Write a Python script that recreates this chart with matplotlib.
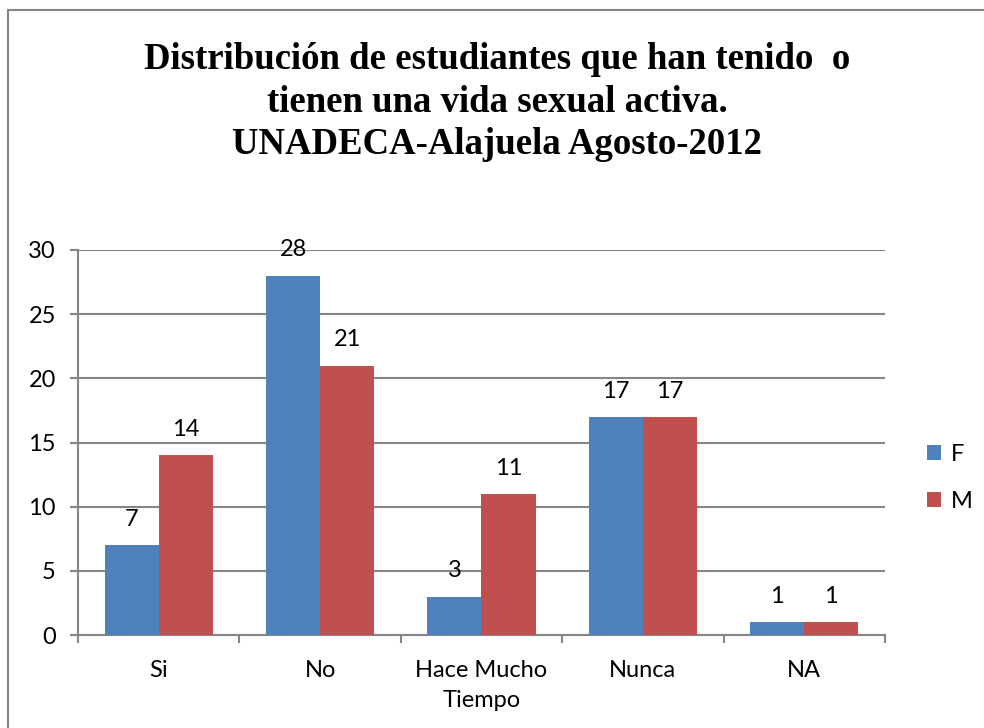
import numpy as np
import matplotlib.pyplot as plt
from matplotlib.patches import Rectangle

categories = ["Si", "No", "Hace Mucho\nTiempo", "Nunca", "NA"]
f_values = [7, 28, 3, 17, 1]
m_values = [14, 21, 11, 17, 1]
series_names = ["F", "M"]

blue = "#4F81BD"
red = "#C0504D"
gray = "#868686"
label_font = "Lato"
fs = 17

fig = plt.figure(figsize=(9.84, 7.28), dpi=100)

# outer chart border
fig.patches.append(Rectangle((8 / 984, -0.05), 1.1, 1 - 10 / 728 + 0.05,
                             transform=fig.transFigure, fill=False,
                             edgecolor=gray, linewidth=1.5))

ax = fig.add_axes([78 / 984, 93 / 728, 807 / 984, 385 / 728])

x = np.arange(len(categories))
w = 0.335
bars_f = ax.bar(x - w / 2, f_values, w, color=blue, label=series_names[0], zorder=3)
bars_m = ax.bar(x + w / 2, m_values, w, color=red, label=series_names[1], zorder=3)

for bars in (bars_f, bars_m):
    for b in bars:
        ax.annotate(str(int(b.get_height())), (b.get_x() + b.get_width() / 2, b.get_height()),
                    xytext=(0, 11), textcoords="offset points", ha="center", va="bottom",
                    fontsize=fs, family=label_font)

ax.set_xlim(-0.5, len(categories) - 0.5)
ax.set_ylim(0, 30)
ax.set_yticks(range(0, 31, 5))
ax.yaxis.grid(True, color=gray, linewidth=1.5, zorder=0)
ax.set_axisbelow(True)

ax.set_xticks(np.arange(-0.5, len(categories), 1))
ax.set_xticklabels([])
ax.set_xticks(x, minor=True)
ax.set_xticklabels(categories, minor=True, fontsize=fs, family=label_font, linespacing=1.55)
ax.tick_params(axis="x", which="minor", length=0, pad=18)
ax.tick_params(axis="x", which="major", length=6, width=1.5, color=gray)
ax.tick_params(axis="y", length=6, width=1.5, color=gray, labelsize=fs, pad=10)
for lab in ax.get_yticklabels():
    lab.set_family(label_font)

for side in ("top", "right"):
    ax.spines[side].set_visible(False)
for side in ("left", "bottom"):
    ax.spines[side].set_color(gray)
    ax.spines[side].set_linewidth(1.5)

fig.legend(handles=[bars_f, bars_m], labels=series_names, loc="center left",
           bbox_to_anchor=(906 / 984, 1 - 478 / 728), frameon=False,
           prop={"family": label_font, "size": fs}, handlelength=0.6, handleheight=0.6,
           handletextpad=0.4, labelspacing=1.1)

fig.text(0.505, 1 - 102 / 728,
         "Distribución de estudiantes que han tenido  o\ntienen una vida sexual activa.\nUNADECA-Alajuela Agosto-2012",
         ha="center", va="center", fontsize=26.5, fontweight="bold",
         family="Liberation Serif", linespacing=1.27)

fig.savefig("out.png", dpi=100)
